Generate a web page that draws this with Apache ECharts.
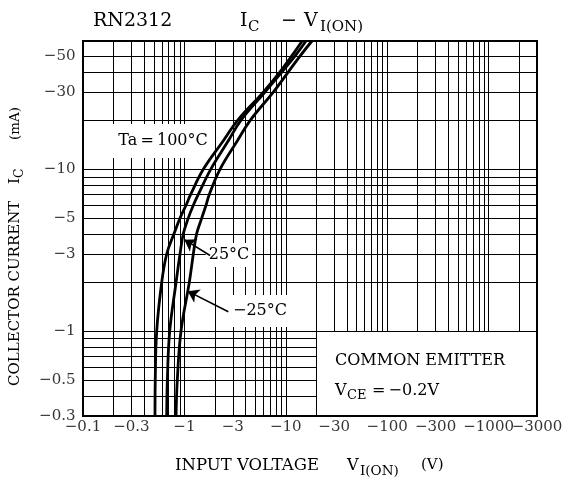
<!DOCTYPE html>
<html>
<head>
<meta charset="utf-8">
<script src="https://cdn.jsdelivr.net/npm/echarts@6/dist/echarts.min.js"></script>
<style>
  html, body { margin: 0; padding: 0; background: #fff; }
  #chart { width: 568px; height: 483px; }
</style>
</head>
<body>
<div id="chart"></div>
<script>
// RN2312: collector current vs. input on-voltage, log-log (magnitudes; both are negative)
const FONT = 'DejaVu Serif';

// Collector current levels |IC| (mA) at which each curve is sampled
const currentLevels = [0.3, 0.5, 1, 2, 3, 4, 5, 6, 7, 10, 15, 20, 30, 40, 50, 62];
// |VI(ON)| (V) for each ambient temperature
const vinTa100 = [0.513, 0.516, 0.533, 0.597, 0.669, 0.789, 0.905, 1.037, 1.153, 1.536, 2.42, 3.33, 6.0, 8.77, 11.4, 14.5];
const vinTa25  = [0.669, 0.679, 0.716, 0.827, 0.905, 0.975, 1.092, 1.224, 1.371, 1.817, 2.71, 3.59, 6.23, 9.18, 12.3, 15.8];
const vinTaM25 = [0.827, 0.851, 0.925, 1.117, 1.224, 1.32, 1.482, 1.633, 1.76, 2.244, 3.33, 4.44, 7.53, 10.6, 13.8, 18.1];

// Tick labels (magnitudes, printed with a minus sign)
const xTickValues = [0.1, 0.3, 1, 3, 10, 30, 100, 300, 1000, 3000];
const yTickValues = [0.3, 0.5, 1, 3, 5, 10, 30, 50];

// Axis extents
const X_MIN = 0.1, X_MAX = 3000;
const Y_MIN = 0.3, Y_MAX = 62;
// Lower-right note box: spans |VI| > 20 V and |IC| < 1 mA
const BOX_V = 20, BOX_I = 1;

// Log grid: 1..9 per decade
function logGrid(lo, hi) {
  const out = [];
  for (let d = Math.floor(Math.log10(lo)); d <= Math.ceil(Math.log10(hi)); d++) {
    for (let m = 1; m <= 9; m++) {
      const v = +(m * Math.pow(10, d)).toPrecision(6);
      if (v > lo * 1.0001 && v < hi * 0.9999) out.push(v);
    }
  }
  return out;
}
const xGrid = logGrid(X_MIN, X_MAX);
const yGrid = logGrid(Y_MIN, Y_MAX).filter(v => v <= 50);

const gridSegments = [];
xGrid.forEach(v => {
  const lo = v > BOX_V ? BOX_I : Y_MIN;
  gridSegments.push({ coords: [[v, lo], [v, Y_MAX]] });
});
yGrid.forEach(i => {
  const hi = i < BOX_I ? BOX_V : X_MAX;
  gridSegments.push({ coords: [[X_MIN, i], [hi, i]] });
});

// Pointer arrows from the temperature notes to their curves
const arrowSegments = [
  { coords: [[1.79, 2.94], [1.0, 3.68]] },
  { coords: [[2.71, 1.32], [1.078, 1.77]] }
];

const pair = vs => vs.map((v, k) => [v, currentLevels[k]]);
const fmt = v => '\u2212' + String(v);

const chart = echarts.init(document.getElementById('chart'), null, { renderer: 'canvas' });

function txt(x, y, text, size, extra) {
  return Object.assign({
    type: 'text', x: x, y: y,
    style: { text: text, font: size + 'px "' + FONT + '"', fill: '#000',
             textAlign: 'left', textVerticalAlign: 'middle' }
  }, extra || {});
}
// Note with a white backing that hides the grid, kept under the curves
function withBg(x, y, text, size, pad) {
  const t = txt(x, y, text, size);
  t.style.textAlign = 'center';
  t.style.backgroundColor = '#fff';
  t.style.padding = pad;
  t.z = 5;
  return t;
}

const option = {
  animation: false,
  backgroundColor: '#fff',
  grid: {
    left: 83, right: 31, top: 41, bottom: 67,
    show: true, borderColor: '#000', borderWidth: 2, backgroundColor: 'transparent'
  },
  xAxis: {
    type: 'log', logBase: 10, min: X_MIN, max: X_MAX,
    axisLine: { show: false }, axisTick: { show: false },
    axisLabel: { show: false }, splitLine: { show: false }, minorSplitLine: { show: false }
  },
  yAxis: {
    type: 'log', logBase: 10, min: Y_MIN, max: Y_MAX,
    axisLine: { show: false }, axisTick: { show: false },
    axisLabel: { show: false }, splitLine: { show: false }, minorSplitLine: { show: false }
  },
  series: [
    {
      name: 'grid', type: 'lines', coordinateSystem: 'cartesian2d',
      silent: true, z: 1, data: gridSegments,
      lineStyle: { color: '#000', width: 1, opacity: 1 }
    },
    {
      name: 'arrows', type: 'lines', coordinateSystem: 'cartesian2d',
      silent: true, z: 6, data: arrowSegments,
      symbol: ['none', 'arrow'], symbolSize: [1, 11],
      lineStyle: { color: '#000', width: 1.6, opacity: 1 }
    },
    {
      name: 'xticks', type: 'scatter', silent: true, clip: false, z: 6,
      data: xTickValues.map(v => [v, Y_MIN]),
      symbolSize: 1, itemStyle: { color: 'rgba(0,0,0,0)' },
      label: { show: true, position: 'bottom', distance: 3, color: '#000',
               fontFamily: FONT, fontSize: 15, formatter: p => fmt(p.value[0]) }
    },
    {
      name: 'yticks', type: 'scatter', silent: true, clip: false, z: 6,
      data: yTickValues.map(v => [X_MIN, v]),
      symbolSize: 1, itemStyle: { color: 'rgba(0,0,0,0)' },
      label: { show: true, position: 'left', distance: 7, color: '#000',
               fontFamily: FONT, fontSize: 15, formatter: p => fmt(p.value[1]) }
    },
    {
      name: 'Ta=100°C', type: 'line', data: pair(vinTa100), z: 8,
      showSymbol: false, smooth: 0.4, lineStyle: { color: '#000', width: 2.8 }
    },
    {
      name: 'Ta=25°C', type: 'line', data: pair(vinTa25), z: 8,
      showSymbol: false, smooth: 0.4, lineStyle: { color: '#000', width: 2.8 }
    },
    {
      name: 'Ta=-25°C', type: 'line', data: pair(vinTaM25), z: 8,
      showSymbol: false, smooth: 0.4, lineStyle: { color: '#000', width: 2.8 }
    }
  ],
  graphic: [
    // Title
    txt(93, 21, 'RN2312', 19),
    txt(240, 21, 'I', 19),
    txt(248, 27, 'C', 15),
    txt(281, 21, '\u2212', 19),
    txt(304, 21, 'V', 19),
    txt(320, 27, 'I(ON)', 15),
    // X axis name
    txt(175, 466, 'INPUT VOLTAGE', 16.5),
    txt(347, 466, 'V', 16),
    txt(360, 471, 'I(ON)', 13.5),
    txt(421, 465, '(V)', 15),
    // Y axis name (rotated, reading upward)
    {
      type: 'group', x: 15, y: 386, rotation: Math.PI / 2,
      children: [
        txt(0, 0, 'COLLECTOR CURRENT', 15),
        txt(202, 0, 'I', 15.5),
        txt(208, 5, 'C', 12.5),
        txt(246, 0, '(mA)', 13.5)
      ]
    },
    // Temperature notes
    withBg(163, 141, 'Ta\u2009=\u2009100\u00B0C', 16, [9, 6, 9, 6]),
    withBg(229, 255, '25\u00B0C', 16, [4, 3, 4, 3]),
    withBg(260, 311, '\u221225\u00B0C', 16, [8, 4, 8, 4]),
    // Test condition note
    txt(335, 361, 'COMMON EMITTER', 16),
    txt(335, 391, 'V', 16),
    txt(347, 396, 'CE', 13),
    txt(372, 391, '=\u2009\u22120.2V', 16)
  ]
};
chart.setOption(option);
</script>
</body>
</html>
